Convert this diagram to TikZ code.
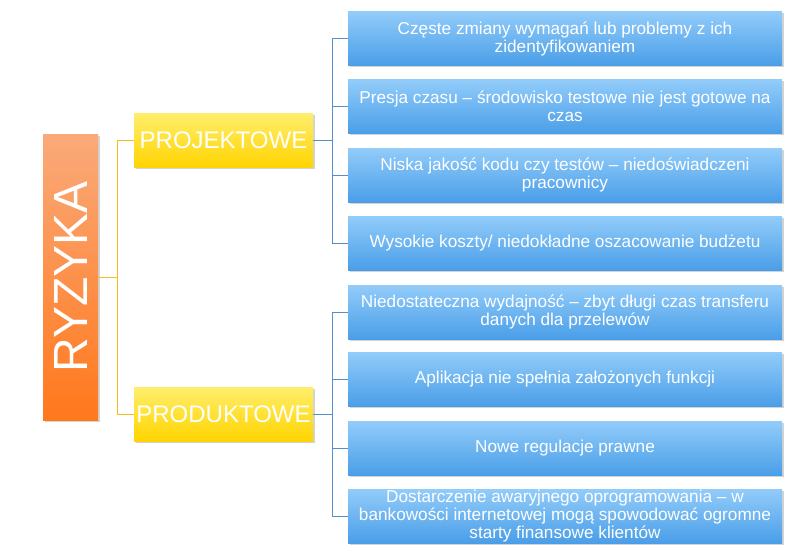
\documentclass[tikz,border=0pt]{standalone}
\usepackage{fontspec}
\setmainfont{Liberation Sans}
\usetikzlibrary{shadows}
\definecolor{risk_top}{RGB}{250, 170, 122}
\definecolor{risk_bot}{RGB}{255, 120, 28}
\definecolor{cat_top}{RGB}{255, 238, 108}
\definecolor{cat_bot}{RGB}{255, 212, 0}
\definecolor{item_top}{RGB}{146, 204, 250}
\definecolor{item_bot}{RGB}{74, 158, 232}
\definecolor{line_gold}{RGB}{246, 188, 34}
\definecolor{line_blue}{RGB}{84, 144, 204}
\tikzstyle{risk}=[rectangle,rotate=90,top color=risk_top,bottom color=risk_bot,
  text=white,minimum width=286pt,minimum height=55pt,inner sep=0pt,
  font=\fontsize{48}{48}\selectfont,
  drop shadow={shadow xshift=1.5pt,shadow yshift=-1.5pt,opacity=0.35}]
\tikzstyle{cat}=[rectangle,top color=cat_top,bottom color=cat_bot,
  text=white,minimum width=179pt,minimum height=54pt,inner sep=0pt,
  font=\fontsize{24}{24}\selectfont,
  drop shadow={shadow xshift=1.5pt,shadow yshift=-1.5pt,opacity=0.35}]
\tikzstyle{item}=[rectangle,top color=item_top,bottom color=item_bot,
  text=white,minimum width=434pt,minimum height=54pt,inner sep=0pt,
  align=center,font=\fontsize{17.2}{18}\selectfont,
  drop shadow={shadow xshift=1.5pt,shadow yshift=-1.5pt,opacity=0.35}]
\tikzstyle{gold}=[draw=line_gold,line width=1pt]
\tikzstyle{blue}=[draw=line_blue,line width=1pt]
\tikzstyle{none}=[]

\begin{document}
\begin{tikzpicture}[x=1pt,y=-1pt]
		\useasboundingbox (0, 0) rectangle (801, 558);
		% main node and categories
		\node [style=risk] (0) at (70.5, 277) {RYZYKA};
		\node [style=cat] (1) at (223.5, 140.5) {PROJEKTOWE};
		\node [style=cat] (2) at (223.5, 414) {PRODUKTOWE};
		\coordinate (j0) at (117, 277);
		\coordinate (j1) at (332, 140.5);
		\coordinate (j2) at (332, 414);
		% risks of the project
		\node [style=item] (3) at (565, 38.5) {Częste zmiany wymagań lub problemy z ich\\zidentyfikowaniem};
		\node [style=item] (4) at (565, 106.5) {Presja czasu – środowisko testowe nie jest gotowe na\\czas};
		\node [style=item] (5) at (565, 175) {Niska jakość kodu czy testów – niedoświadczeni\\pracownicy};
		\node [style=item] (6) at (565, 243) {Wysokie koszty/ niedokładne oszacowanie budżetu};
		% risks of the product
		\node [style=item] (7) at (565, 312) {Niedostateczna wydajność – zbyt długi czas transferu\\danych dla przelewów};
		\node [style=item] (8) at (565, 379) {Aplikacja nie spełnia założonych funkcji};
		\node [style=item] (9) at (565, 448) {Nowe regulacje prawne};
		\node [style=item] (10) at (565, 516) {Dostarczenie awaryjnego oprogramowania – w\\bankowości internetowej mogą spowodować ogromne\\starty finansowe klientów};
		% connectors
		\draw [style=gold] (0.south) to (j0);
		\draw [style=gold] (j0) |- (1.west);
		\draw [style=gold] (j0) |- (2.west);
		\draw [style=blue] (1.east) to (j1);
		\draw [style=blue] (j1) |- (3.west);
		\draw [style=blue] (j1) |- (4.west);
		\draw [style=blue] (j1) |- (5.west);
		\draw [style=blue] (j1) |- (6.west);
		\draw [style=blue] (2.east) to (j2);
		\draw [style=blue] (j2) |- (7.west);
		\draw [style=blue] (j2) |- (8.west);
		\draw [style=blue] (j2) |- (9.west);
		\draw [style=blue] (j2) |- (10.west);
\end{tikzpicture}
\end{document}
